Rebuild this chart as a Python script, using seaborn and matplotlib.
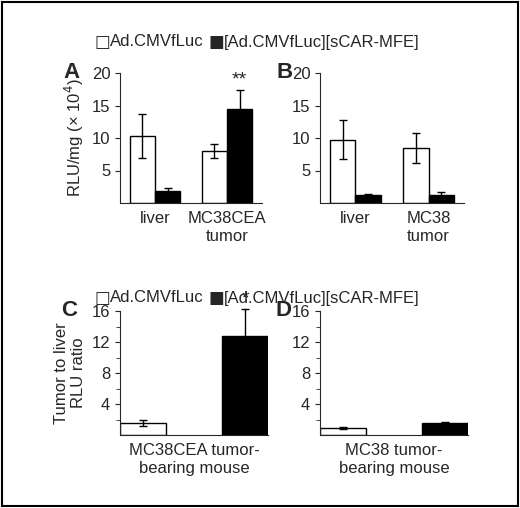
import matplotlib
matplotlib.use("Agg")
import matplotlib.pyplot as plt
import seaborn as sns
import pandas as pd
from matplotlib.patches import Rectangle

sns.set_style("ticks")
plt.rcParams['font.family'] = ['Liberation Sans', 'DejaVu Sans']

series = ["Ad.CMVfLuc", "[Ad.CMVfLuc][sCAR-MFE]"]
a_cats = ["liver", "MC38CEA\ntumor"]
a_vals = [[10.3, 8.0], [1.8, 14.5]]
a_err = [[3.4, 1.1], [0.5, 2.9]]
b_cats = ["liver", "MC38\ntumor"]
b_vals = [[9.7, 8.4], [1.2, 1.3]]
b_err = [[3.0, 2.3], [0.2, 0.4]]
c_cats = ["MC38CEA tumor-\nbearing mouse"]
c_vals = [[1.5], [12.8]]
c_err = [[0.4], [3.5]]
d_cats = ["MC38 tumor-\nbearing mouse"]
d_vals = [[0.9], [1.6]]
d_err = [[0.1], [0.1]]

W, H = 520, 508
fig = plt.figure(figsize=(5.2, 5.08), dpi=100)
fs = 12

def frac(l, r, top, bot):
    return [l / W, 1 - bot / H, (r - l) / W, (bot - top) / H]

def panel(rect, cats, vals, errs, ylim, ticks, minor, label, stars=None, ylabel=None,
          width=0.7, gap=0, xmargin=0.08, lx=-0.4):
    ax = fig.add_axes(rect)
    rows = []
    for si, s in enumerate(series):
        for ci, c in enumerate(cats):
            rows.append({"cat": c, "series": s, "v": vals[si][ci], "e": errs[si][ci]})
    df = pd.DataFrame(rows)
    sns.barplot(data=df, x="cat", y="v", hue="series", hue_order=series, order=cats,
                palette=["white", "black"], edgecolor="black", linewidth=1,
                errorbar=None, width=width, gap=gap, ax=ax, legend=False)
    for si in range(len(series)):
        for ci in range(len(cats)):
            p = ax.patches[si * len(cats) + ci]
            xc = p.get_x() + p.get_width() / 2
            eb = ax.errorbar(xc, vals[si][ci], yerr=errs[si][ci], color="black",
                             capsize=3, elinewidth=1, capthick=1)
            for art in eb.lines[1] + eb.lines[2]:
                art.set_clip_on(False)
            if stars and stars[si][ci]:
                ax.text(xc, vals[si][ci] + errs[si][ci] + 0.2, stars[si][ci],
                        ha="center", va="bottom", fontsize=fs + 2)
    ax.set_ylim(*ylim)
    ax.set_yticks(ticks)
    ax.set_yticklabels([str(t) for t in ticks], fontsize=fs)
    if minor:
        ax.set_yticks(minor, minor=True)
        ax.tick_params(axis="y", which="minor", length=3)
    ax.tick_params(axis="x", length=0, labelsize=fs, pad=6)
    ax.set_xlabel("")
    ax.set_ylabel(ylabel if ylabel else "", fontsize=fs)
    sns.despine(ax=ax)
    ax.text(lx, 1.0, label, transform=ax.transAxes, fontsize=16, fontweight="bold",
            ha="left", va="center")
    ax.margins(x=xmargin)
    return ax

panel(frac(120, 262, 73, 203), a_cats, a_vals, a_err, (0, 20), [5, 10, 15, 20], None, "A",
      stars=[[None, None], [None, "**"]], ylabel="RLU/mg (× 10$^4$)")
panel(frac(320, 464, 73, 203), b_cats, b_vals, b_err, (0, 20), [5, 10, 15, 20], None, "B", lx=-0.3)
panel(frac(120, 268, 311, 435), c_cats, c_vals, c_err, (0, 16), [4, 8, 12, 16], [2, 6, 10, 14], "C",
      stars=[[None], ["*"]], ylabel="Tumor to liver\nRLU ratio", width=1.0, gap=0.55, xmargin=0)
panel(frac(320, 468, 311, 435), d_cats, d_vals, d_err, (0, 16), [4, 8, 12, 16], [2, 6, 10, 14], "D",
      width=1.0, gap=0.55, xmargin=0, lx=-0.3)

for y in (42, 298):
    fig.text(94 / W, 1 - y / H, "□", fontsize=fs, va="center", family=["DejaVu Sans"])
    fig.text(110 / W, 1 - y / H, series[0], fontsize=fs, va="center")
    fig.text(208 / W, 1 - y / H, "■", fontsize=fs, va="center", family=["DejaVu Sans"])
    fig.text(224 / W, 1 - y / H, series[1], fontsize=fs, va="center")

fig.patches.append(Rectangle((2 / W, 2 / H), 1 - 4 / W, 1 - 4 / H, transform=fig.transFigure,
                             fill=False, edgecolor="black", linewidth=1.5))
fig.savefig("out.png", dpi=100)
